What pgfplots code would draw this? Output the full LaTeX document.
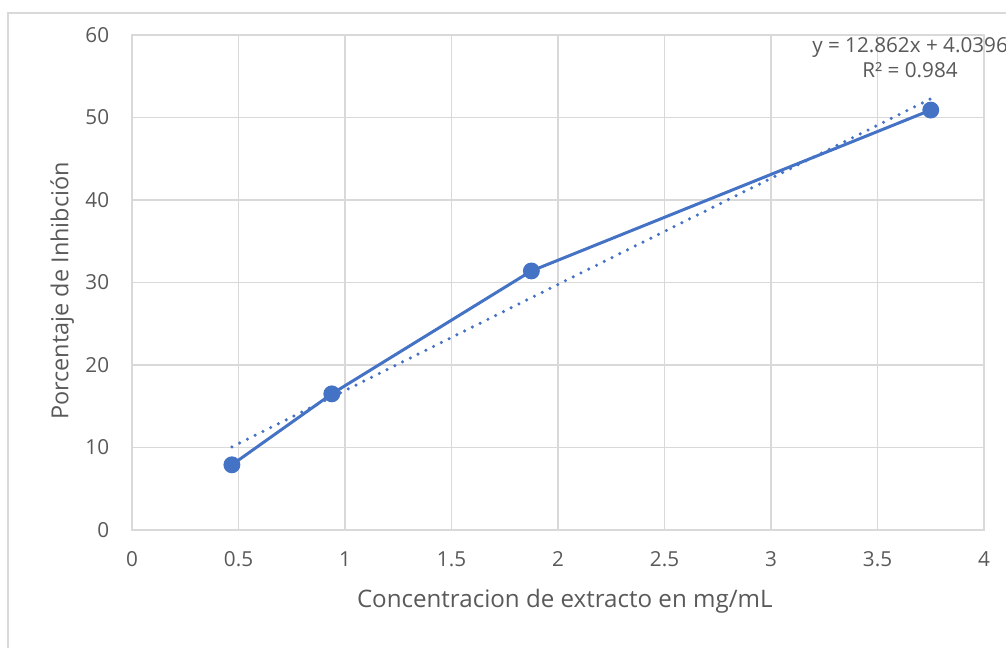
\documentclass[border=0pt]{standalone}
\usepackage{fontspec}
\setmainfont{Open Sans}
\usepackage{pgfplots}
\pgfplotsset{compat=1.18}
\definecolor{serie}{HTML}{4472C4}
\definecolor{rejilla}{HTML}{D9D9D9}
\definecolor{texto}{HTML}{595959}
\begin{document}
\begin{tikzpicture}
% lienzo de 1006x648 px, 1 px = 0.75pt
\useasboundingbox (0,0) rectangle (754.5pt,486pt);
\begin{scope}
\clip (0,0) rectangle (754.5pt,486pt);
\draw[rejilla, line width=1.5pt] (8*0.75pt,635*0.75pt) rectangle (1020*0.75pt,-20pt);
\end{scope}
\begin{axis}[
  at={(99pt,88.5pt)}, anchor=south west,
  scale only axis,
  width=639pt, height=371.25pt,
  xmin=0, xmax=4, ymin=0, ymax=60,
  xtick={0,0.5,...,4}, ytick={0,10,...,60},
  grid=major,
  grid style={rejilla, line width=1pt},
  axis line style={rejilla, line width=1pt},
  tick style={draw=none},
  /pgf/number format/assume math mode=true,
  ticklabel style={font=\fontsize{15.5}{19}\selectfont, text=texto},
  yticklabel style={inner sep=0pt, anchor=east, xshift=-17pt},
  xticklabel style={inner sep=0pt, anchor=north, yshift=-16pt},
  xlabel={Concentracion de extracto en mg/mL},
  ylabel={Porcentaje de Inhibción},
  label style={text=texto},
  xlabel style={font=\fontsize{18.1}{21}\selectfont, at={(axis description cs:0.508,-0.143)}, anchor=center},
  ylabel style={font=\fontsize{17.6}{21}\selectfont, at={(axis description cs:-0.082,0.483)}, anchor=center, rotate=0},
  clip=false,
]
\addplot[serie, line width=2.25pt, mark=*, mark size=5.2pt, mark options={fill=serie, draw=serie}]
  coordinates {(0.469,7.9) (0.938,16.5) (1.875,31.4) (3.75,50.9)};
\addplot[serie, line width=2.6pt, dash pattern=on 0pt off 6.5pt, line cap=round]
  coordinates {(0.469,10.072) (3.75,52.272)};
\end{axis}
\node[text=texto, align=center, font=\fontsize{15.5}{19}\selectfont, inner sep=0pt]
  at (910*0.75pt, 590*0.75pt) {y = 12.862x + 4.0396\\R² = 0.984};
\end{tikzpicture}
\end{document}
